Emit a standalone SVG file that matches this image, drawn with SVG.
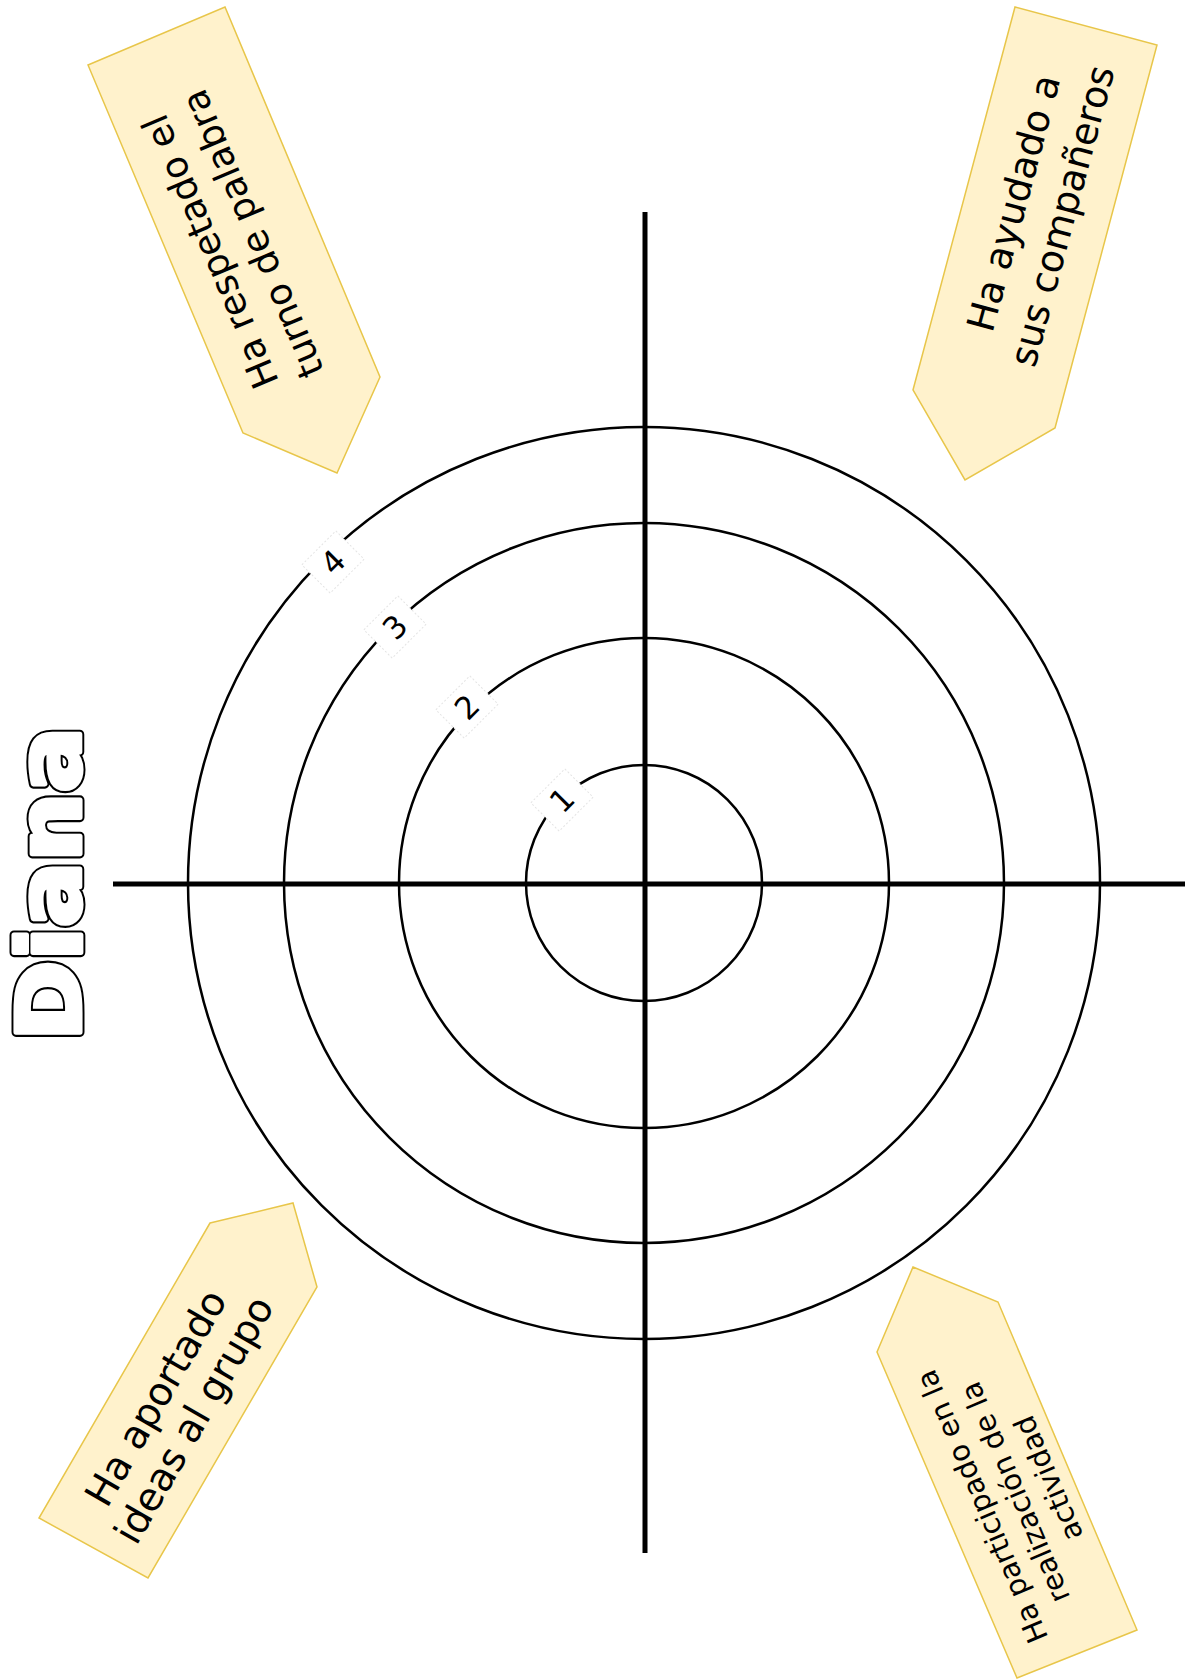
<svg xmlns="http://www.w3.org/2000/svg" width="1188" height="1679" viewBox="0 0 1188 1679">
<style>
.tag{fill:#FFF2CC;stroke:#E8C64A;stroke-width:1.5;stroke-linejoin:miter}
.tt{font-family:"DejaVu Sans","Liberation Sans",sans-serif;fill:#000;text-anchor:middle}
.ring{fill:none;stroke:#000;stroke-width:2.5}
.axis{stroke:#000;stroke-width:5}
.nb{fill:#fff;stroke:#e4e4e4;stroke-width:1;stroke-dasharray:2 2}
.num{font-family:"DejaVu Sans","Liberation Sans",sans-serif;font-size:31px;fill:#000;text-anchor:middle}
.title{font-family:"DejaVu Sans","Liberation Sans",sans-serif;font-weight:bold;font-size:88px;stroke-linejoin:round}
.t-out{fill:#000;stroke:#000;stroke-width:9}
.t-in{fill:#fff;stroke:#fff;stroke-width:5}
</style>
<rect width="1188" height="1679" fill="#fff"/>
<g id="title" transform="translate(80,1041) rotate(-90)">
<text class="title t-out" x="0" y="0" textLength="314" lengthAdjust="spacingAndGlyphs">Diana</text>
<text class="title t-in" x="0" y="0" textLength="314" lengthAdjust="spacingAndGlyphs">Diana</text>
</g>
<g id="target">
<circle class="ring" cx="644" cy="883" r="118"/>
<circle class="ring" cx="644" cy="883" r="245"/>
<circle class="ring" cx="644" cy="883" r="360"/>
<circle class="ring" cx="644" cy="883" r="456"/>
</g>
<g id="connectors">
<line class="axis" x1="645" y1="212" x2="645" y2="1553"/>
<line class="axis" x1="113" y1="884" x2="1185" y2="884"/>
</g>
<g id="levels">
<g id="level4" transform="translate(333,562) rotate(-45)"><rect class="nb" x="-24" y="-20" width="48" height="40"/><text class="num" x="0" y="11">4</text></g>
<g id="level3" transform="translate(395,627) rotate(-45)"><rect class="nb" x="-24" y="-20" width="48" height="40"/><text class="num" x="0" y="11">3</text></g>
<g id="level2" transform="translate(467,707) rotate(-45)"><rect class="nb" x="-24" y="-20" width="48" height="40"/><text class="num" x="0" y="11">2</text></g>
<g id="level1" transform="translate(562,800) rotate(-45)"><rect class="nb" x="-24" y="-20" width="48" height="40"/><text class="num" x="0" y="11">1</text></g>
</g>
<g id="tag-respeto">
<polygon class="tag" points="88,65 225,7 380,377 337,473 243,433"/>
<g transform="translate(233,242) rotate(-113)">
<text class="tt" font-size="37" x="0" y="-12">Ha respetado el</text>
<text class="tt" font-size="37" x="0" y="34">turno de palabra</text>
</g>
</g>
<g id="tag-ayuda">
<polygon class="tag" points="1015,7 1157,45 1055,428 965,480 913,390"/>
<g transform="translate(1040,210) rotate(-75)">
<text class="tt" font-size="38" x="0" y="-14">Ha ayudado a</text>
<text class="tt" font-size="38" x="0" y="36">sus compañeros</text>
</g>
</g>
<g id="tag-ideas">
<polygon class="tag" points="210,1223 293,1203 317,1287 148,1578 39,1518"/>
<g transform="translate(177,1410) rotate(-60)">
<text class="tt" font-size="39" x="0" y="-11">Ha aportado</text>
<text class="tt" font-size="39" x="0" y="33">ideas al grupo</text>
</g>
</g>
<g id="tag-participa">
<polygon class="tag" points="913,1267 998,1302 1137,1630 1017,1678 877,1352"/>
<g transform="translate(1016,1492) rotate(-113)">
<text class="tt" font-size="29" x="0" y="-27">Ha participado en la</text>
<text class="tt" font-size="29" x="0" y="9">realización de la</text>
<text class="tt" font-size="29" x="0" y="45">actividad</text>
</g>
</g>
</svg>
